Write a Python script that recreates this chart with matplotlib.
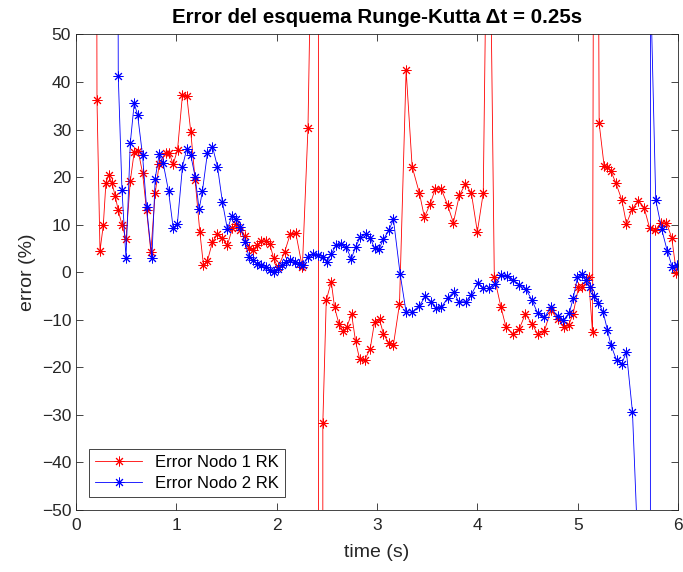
import matplotlib
matplotlib.use('Agg')
import matplotlib.pyplot as plt

plt.rcParams['font.family'] = ['Liberation Sans', 'DejaVu Sans']

# Error Nodo 1 RK (red)
t_nodo1 = [0.17, 0.209, 0.239, 0.272, 0.298, 0.325, 0.358, 0.391, 0.421, 0.458, 0.498,
           0.541, 0.580, 0.620, 0.663, 0.703, 0.746, 0.789, 0.829, 0.896, 0.929,
           0.968, 1.012, 1.061, 1.104, 1.144, 1.187, 1.234, 1.270, 1.310, 1.360,
           1.410, 1.453, 1.509, 1.559, 1.599, 1.639, 1.682, 1.725, 1.765, 1.804,
           1.848, 1.891, 1.931, 1.970, 2.013, 2.080, 2.136, 2.190, 2.256, 2.312,
           2.415, 2.440, 2.460, 2.494, 2.544, 2.577, 2.620, 2.660, 2.700, 2.746,
           2.786, 2.826, 2.876, 2.932, 2.975, 3.025, 3.064, 3.117, 3.164, 3.224,
           3.290, 3.350, 3.423, 3.472, 3.529, 3.582, 3.638, 3.704, 3.761, 3.821,
           3.880, 3.940, 4.000, 4.059, 4.110, 4.169, 4.235, 4.285, 4.351, 4.418,
           4.478, 4.544, 4.600, 4.667, 4.733, 4.799, 4.866, 4.909, 4.955, 5.008,
           5.048, 5.108, 5.148, 5.175, 5.214, 5.264, 5.297, 5.330, 5.380, 5.440,
           5.486, 5.546, 5.605, 5.662, 5.718, 5.771, 5.828, 5.884, 5.937, 5.984]
e_nodo1 = [500, 36.2, 4.5, 9.9, 18.8, 20.4, 18.8, 16.0, 13.0, 10.0, 6.9,
           19.2, 25.3, 25.5, 20.9, 13.0, 4.3, 16.6, 22.7, 25.0, 25.1,
           22.7, 25.8, 37.3, 37.1, 29.5, 19.4, 8.5, 1.5, 2.4, 6.4,
           8.0, 7.3, 5.7, 9.3, 10.1, 8.8, 7.6, 5.0, 4.6, 5.7,
           6.6, 6.6, 6.0, 2.9, 1.0, 4.3, 8.1, 8.3, 1.0, 30.4,
           160, -3000, -31.7, -5.9, -2.0, -7.4, -10.8, -12.4, -11.5, -8.7,
           -14.5, -18.2, -18.5, -16.1, -10.5, -9.9, -13.0, -14.9, -15.2, -6.7,
           42.5, 22.2, 16.6, 11.6, 14.3, 17.6, 17.6, 14.1, 10.4, 16.2,
           18.5, 16.7, 8.5, 16.7, 104, -1.0, -7.3, -11.5, -13.0, -11.9,
           -8.8, -10.8, -13.0, -12.4, -8.0, -9.8, -11.5, -11.2, -8.7, -3.2,
           -3.2, -1.1, -12.6, 230, 31.3, 22.3, 22.2, 21.3, 18.8, 15.2,
           10.2, 13.4, 15.0, 13.6, 9.2, 8.8, 10.4, 10.4, 7.3, -0.1]

# Error Nodo 2 RK (blue)
t_nodo2 = [0.38, 0.421, 0.458, 0.498, 0.541, 0.580, 0.614, 0.663, 0.703, 0.756, 0.789,
           0.829, 0.869, 0.922, 0.968, 1.010, 1.061, 1.104, 1.144, 1.187, 1.227,
           1.260, 1.310, 1.360, 1.410, 1.459, 1.509, 1.552, 1.599, 1.639, 1.682,
           1.725, 1.765, 1.804, 1.848, 1.891, 1.931, 1.970, 2.013, 2.057, 2.096,
           2.136, 2.179, 2.223, 2.262, 2.312, 2.362, 2.411, 2.461, 2.501, 2.544,
           2.594, 2.644, 2.693, 2.743, 2.786, 2.833, 2.886, 2.932, 2.975, 3.018,
           3.064, 3.117, 3.164, 3.230, 3.290, 3.350, 3.423, 3.482, 3.539, 3.588,
           3.638, 3.704, 3.764, 3.814, 3.887, 3.937, 4.003, 4.059, 4.112, 4.179,
           4.235, 4.291, 4.358, 4.418, 4.484, 4.544, 4.600, 4.667, 4.733, 4.799,
           4.856, 4.916, 4.955, 4.998, 5.042, 5.081, 5.121, 5.164, 5.207, 5.254,
           5.297, 5.330, 5.387, 5.440, 5.486, 5.546, 5.600, 5.715, 5.725, 5.778,
           5.838, 5.894, 5.944, 5.990]
e_nodo2 = [500, 41.3, 17.3, 3.0, 27.2, 35.5, 33.1, 24.6, 13.7, 2.9, 19.7,
           24.8, 22.9, 17.1, 9.4, 10.1, 22.2, 26.0, 24.6, 20.1, 13.2,
           17.1, 25.1, 26.4, 22.2, 14.8, 9.0, 11.8, 11.3, 9.5, 6.4,
           3.2, 2.5, 1.8, 1.5, 1.0, 0.4, 0.1, 0.6, 1.5, 2.2,
           2.6, 2.2, 1.8, 1.5, 3.3, 3.9, 3.7, 3.2, 2.2, 3.9,
           5.7, 6.0, 5.3, 2.8, 5.3, 7.4, 8.0, 7.3, 5.0, 4.8,
           6.9, 8.8, 11.1, -0.3, -8.4, -8.4, -7.0, -5.1, -6.2, -7.6,
           -7.4, -5.5, -4.1, -6.2, -6.2, -4.8, -2.2, -3.4, -3.4, -2.4,
           -0.6, -0.8, -1.7, -2.6, -3.6, -5.8, -8.6, -9.5, -7.4, -9.3,
           -10.1, -8.6, -5.5, -1.1, -0.4, -1.7, -3.2, -5.0, -6.5, -8.4,
           -12.2, -15.2, -18.5, -19.2, -16.8, -29.4, -58, -5000, 62, 15.2,
           9.0, 4.4, 1.0, 1.5]

x_ticks = [0, 1, 2, 3, 4, 5, 6]
y_ticks = [-50, -40, -30, -20, -10, 0, 10, 20, 30, 40, 50]

fig = plt.figure(figsize=(6.83, 5.72), dpi=100)
ax = fig.add_axes([0.1113, 0.1084, 0.8814, 0.8313])

star = (8, 2, 0)
ax.plot(t_nodo1, e_nodo1, color='red', lw=0.6, marker=star, ms=7, mew=0.7,
        label='Error Nodo 1 RK')
ax.plot(t_nodo2, e_nodo2, color='blue', lw=0.6, marker=star, ms=7, mew=0.7,
        label='Error Nodo 2 RK')

ax.set_xlim(0, 6)
ax.set_ylim(-50, 50)
ax.set_xticks(x_ticks)
ax.set_yticks(y_ticks)
ax.tick_params(direction='in', length=5, width=0.6, labelsize=12.5,
               top=True, right=True, colors='#262626')
ax.tick_params(axis='x', pad=6)
for s in ax.spines.values():
    s.set_color('#262626')
    s.set_linewidth(0.6)

ax.set_title('Error del esquema Runge-Kutta \u0394t = 0.25s', fontsize=14.8,
             fontweight='bold', color='black', pad=8)
ax.set_xlabel('time (s)', fontsize=14, color='#262626', labelpad=8)
ax.set_ylabel('error (%)', fontsize=14, color='#262626', labelpad=4)

leg = ax.legend(loc='lower left', fontsize=12, fancybox=False, framealpha=1,
                edgecolor='#262626', borderaxespad=0.8, handlelength=2.8,
                borderpad=0.35, labelspacing=0.35)
leg.get_frame().set_linewidth(0.6)

fig.savefig('out.png', dpi=100)
